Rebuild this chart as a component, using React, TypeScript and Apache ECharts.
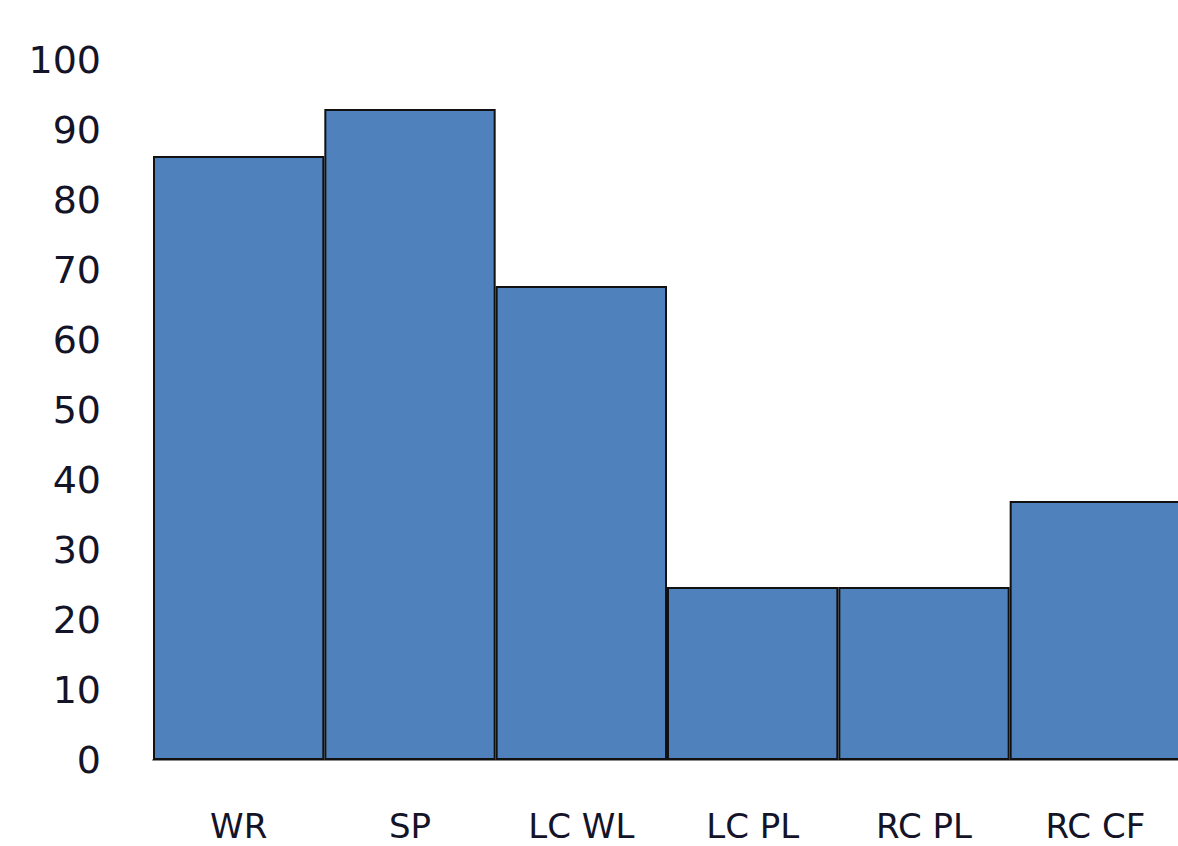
import React, { useEffect, useRef } from "react";
import * as echarts from "echarts";

const categories = ["WR", "SP", "LC WL", "LC PL", "RC PL", "RC CF"];
const values = [86.3, 93.0, 67.7, 24.7, 24.7, 37.0];
const yTicks = { min: 0, max: 100, interval: 10 };

export default function App() {
  const ref = useRef<HTMLDivElement>(null);
  useEffect(() => {
    if (!ref.current) return;
    const chart = echarts.init(ref.current, null, { renderer: "svg" });
    chart.setOption({
      animation: false,
      backgroundColor: "#ffffff",
      grid: { left: 153, top: 60, bottom: 86, width: 1028 },
      xAxis: {
        type: "category",
        data: categories,
        axisLine: { show: true, lineStyle: { color: "#8a8a8a", width: 2 } },
        axisTick: { show: false },
        axisLabel: {
          margin: 49,
          fontSize: 34,
          fontFamily: "DejaVu Sans",
          color: "#141428",
          lineHeight: 34,
        },
      },
      yAxis: {
        type: "value",
        min: yTicks.min,
        max: yTicks.max,
        interval: yTicks.interval,
        axisLine: { show: false },
        axisTick: { show: false },
        splitLine: { show: false },
        axisLabel: {
          margin: 52,
          fontSize: 38,
          fontFamily: "DejaVu Sans",
          color: "#141428",
        },
      },
      series: [
        {
          type: "bar",
          data: values,
          barCategoryGap: "0%",
          itemStyle: { color: "#4F81BD", borderColor: "#111111", borderWidth: 2 },
        },
      ],
    });
    return () => chart.dispose();
  }, []);
  return (
    <div
      style={{
        position: "fixed",
        left: 0,
        top: 0,
        width: 1178,
        height: 846,
        overflow: "hidden",
        background: "#fff",
      }}
    >
      <div ref={ref} style={{ width: 1200, height: 846 }} />
    </div>
  );
}
